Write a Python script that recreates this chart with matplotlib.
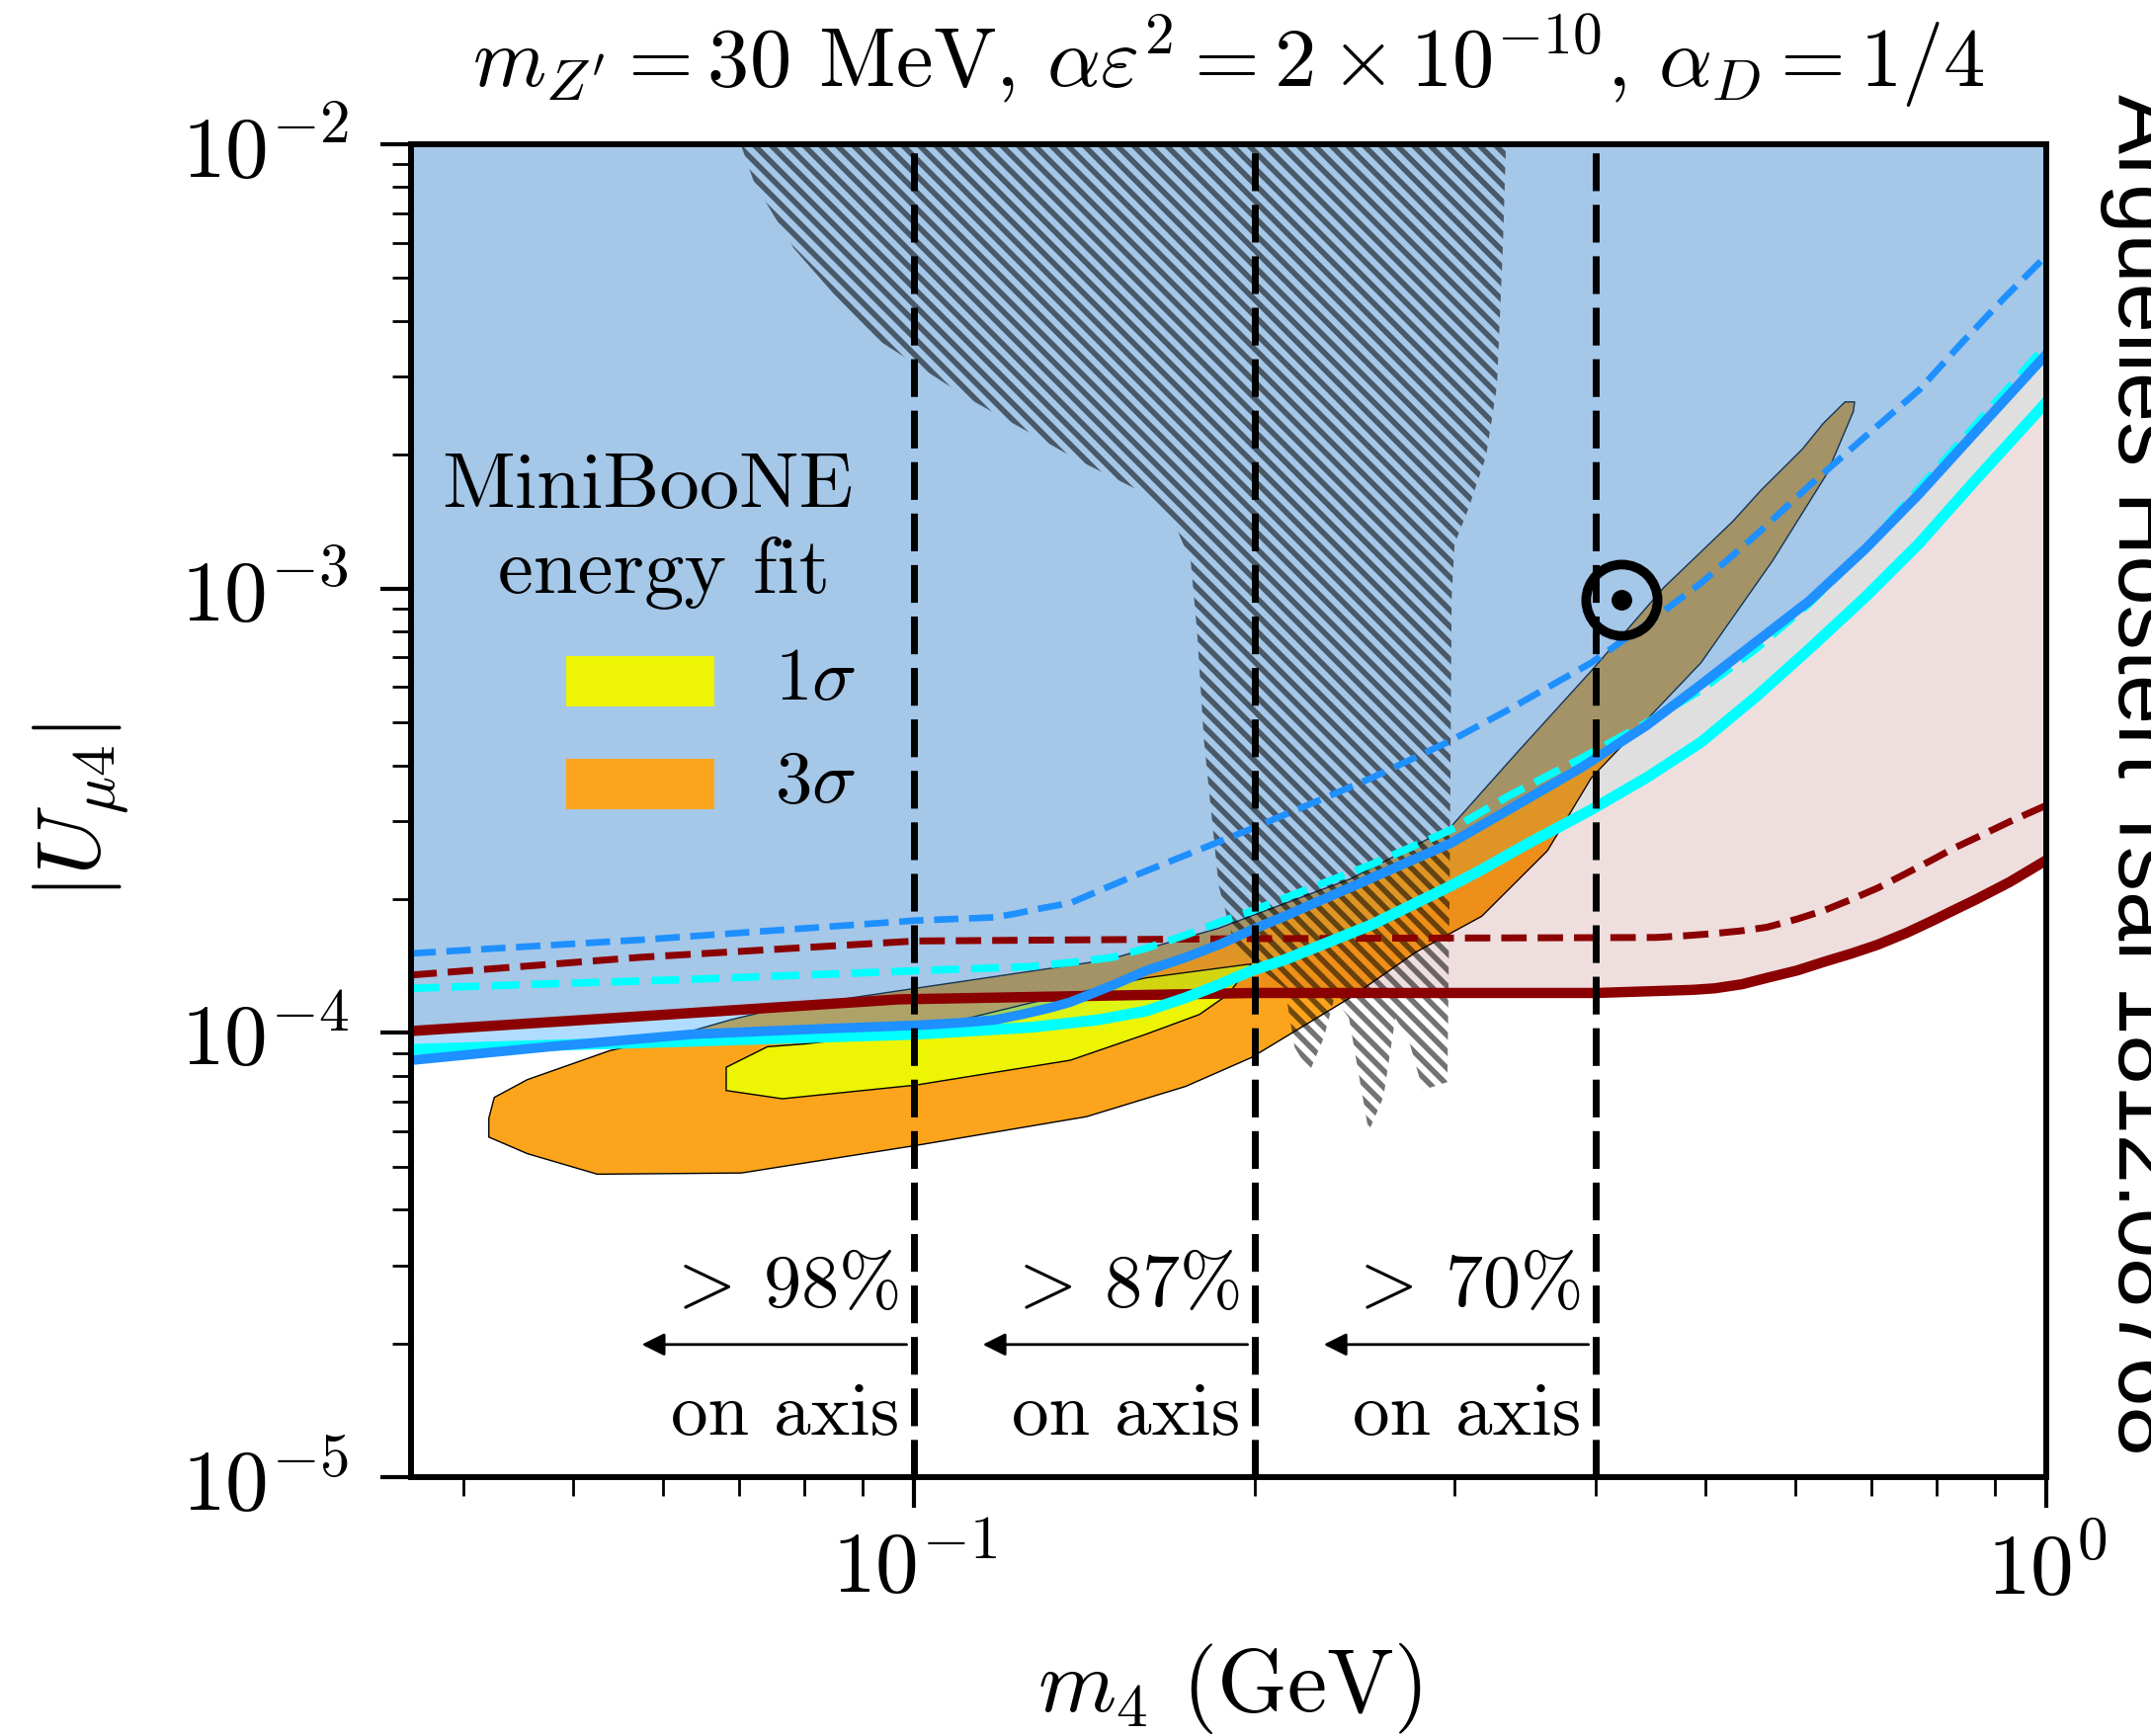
import matplotlib
matplotlib.use('Agg')
import matplotlib.pyplot as plt
import numpy as np
from matplotlib.patches import Rectangle
from matplotlib.ticker import LogLocator, NullFormatter

plt.rcParams['font.family'] = 'serif'
plt.rcParams['font.serif'] = ['cmr10']
plt.rcParams['mathtext.fontset'] = 'cm'
plt.rcParams['axes.formatter.use_mathtext'] = True
plt.rcParams['hatch.linewidth'] = 4.0

# --- data (m4 in GeV, |U_mu4|) ---
top = 1e-2

# dark red solid / dashed
m_red = [0.036, 0.0574, 0.097, 0.2, 0.4007, 0.4871, 0.5093, 0.5384, 0.5662, 0.6021, 0.637, 0.6731,
         0.7096, 0.7524, 0.7959, 0.825, 0.865, 0.9275, 1.0]
u_red = [1.01e-4, 1.09e-4, 1.19e-4, 1.23e-4, 1.23e-4, 1.25e-4, 1.26e-4, 1.287e-4, 1.33e-4, 1.382e-4, 1.447e-4, 1.51e-4,
         1.58e-4, 1.68e-4, 1.797e-4, 1.88e-4, 1.993e-4, 2.185e-4, 2.45e-4]
m_red_d = [0.036, 0.0574, 0.1003, 0.2, 0.4519, 0.4818, 0.5093, 0.5384, 0.5662, 0.6021, 0.637, 0.6731,
           0.7096, 0.7524, 0.7959, 0.825, 0.865, 0.9275, 1.0]
u_red_d = [1.35e-4, 1.48e-4, 1.61e-4, 1.63e-4, 1.64e-4, 1.656e-4, 1.674e-4, 1.698e-4, 1.729e-4, 1.804e-4, 1.889e-4, 2.0e-4,
           2.12e-4, 2.289e-4, 2.466e-4, 2.592e-4, 2.744e-4, 2.988e-4, 3.254e-4]

# blue solid / dashed
m_blue = [0.036, 0.04764, 0.06367, 0.08318, 0.1003, 0.1099, 0.1179, 0.1246, 0.1321, 0.1374, 0.1429, 0.1515,
          0.1602, 0.1737, 0.1867, 0.1985, 0.2123, 0.2537, 0.2975, 0.3354, 0.3876, 0.4431, 0.4953, 0.5537,
          0.6172, 0.692, 0.7718, 0.865, 1.0]
u_blue = [8.68e-5, 9.31e-5, 9.93e-5, 1.022e-4, 1.04e-4, 1.054e-4, 1.07e-4, 1.101e-4, 1.14e-4, 1.173e-4, 1.22e-4, 1.296e-4,
          1.38e-4, 1.478e-4, 1.587e-4, 1.704e-4, 1.829e-4, 2.233e-4, 2.67e-4, 3.184e-4, 3.943e-4, 4.913e-4, 6.08e-4, 7.577e-4,
          9.38e-4, 1.229e-3, 1.633e-3, 2.248e-3, 3.37e-3]
m_blue_d = [0.036, 0.05742, 0.1003, 0.1179, 0.1229, 0.1299, 0.1374, 0.1457, 0.158, 0.1718, 0.1985, 0.2269,
            0.2537, 0.2975, 0.3354, 0.3963, 0.4431, 0.4953, 0.5537, 0.6172, 0.692, 0.7718, 0.8414, 0.9199, 1.0]
u_blue_d = [1.51e-4, 1.62e-4, 1.79e-4, 1.82e-4, 1.855e-4, 1.91e-4, 1.96e-4, 2.09e-4, 2.28e-4, 2.484e-4, 2.88e-4, 3.323e-4,
            3.75e-4, 4.54e-4, 5.35e-4, 6.81e-4, 8.31e-4, 1.029e-3, 1.319e-3, 1.704e-3, 2.201e-3, 2.80e-3, 3.568e-3,
            4.54e-3, 5.62e-3]

# cyan solid / dashed
m_cyan = [0.036, 0.04764, 0.06367, 0.08318, 0.1003, 0.1271, 0.1453, 0.1602, 0.1737, 0.1867, 0.1985, 0.2123,
          0.2537, 0.2975, 0.3171, 0.3448, 0.3963, 0.4431, 0.4953, 0.5537, 0.6172, 0.692, 0.7718, 0.865, 1.0]
u_cyan = [9.18e-5, 9.38e-5, 9.58e-5, 9.79e-5, 9.93e-5, 1.03e-4, 1.07e-4, 1.12e-4, 1.20e-4, 1.29e-4, 1.38e-4, 1.46e-4,
          1.753e-4, 2.14e-4, 2.33e-4, 2.63e-4, 3.18e-4, 3.75e-4, 4.51e-4, 5.705e-4, 7.31e-4, 9.58e-4, 1.264e-3,
          1.753e-3, 2.63e-3]
m_cyan_d = [0.036, 0.06367, 0.1003, 0.1264, 0.1374, 0.1494, 0.1602, 0.1737, 0.1867, 0.1985, 0.2123, 0.2537,
            0.2975, 0.3354, 0.3876, 0.4431, 0.4953, 0.5537, 0.6172, 0.692, 0.7718, 0.865, 1.0]
u_cyan_d = [1.26e-4, 1.32e-4, 1.38e-4, 1.41e-4, 1.44e-4, 1.478e-4, 1.55e-4, 1.66e-4, 1.78e-4, 1.88e-4, 2.01e-4, 2.396e-4,
            2.86e-4, 3.42e-4, 4.14e-4, 4.983e-4, 5.91e-4, 7.31e-4, 9.25e-4, 1.229e-3, 1.68e-3, 2.33e-3, 3.54e-3]

# MiniBooNE energy fit contours
m_3sig = [0.04213, 0.0426, 0.04556, 0.05385, 0.06157, 0.06884, 0.07526, 0.1003, 0.1482, 0.1857, 0.2427,
          0.2975, 0.342, 0.3963, 0.4595, 0.5283, 0.56, 0.6087, 0.6347, 0.6637, 0.6768,
          0.6749, 0.64, 0.5726, 0.4953, 0.3963, 0.3624, 0.3171, 0.2774, 0.2427, 0.1985, 0.1737,
          0.142, 0.1003, 0.0704, 0.05253, 0.04556, 0.04213]
u_3sig = [6.43e-5, 7.16e-5, 7.85e-5, 9.12e-5, 9.86e-5, 1.07e-4, 1.13e-4, 1.26e-4, 1.46e-4, 1.72e-4, 2.22e-4,
          2.90e-4, 4.32e-4, 6.53e-4, 1.007e-3, 1.416e-3, 1.668e-3, 2.06e-3, 2.35e-3, 2.63e-3, 2.63e-3,
          2.50e-3, 1.816e-3, 1.153e-3, 6.81e-4, 3.75e-4, 2.57e-4, 1.83e-4, 1.52e-4, 1.20e-4, 8.80e-5, 7.58e-5,
          6.48e-5, 5.58e-5, 4.84e-5, 4.81e-5, 5.35e-5, 5.83e-5]
m_1sig = [0.06826, 0.07423, 0.08026, 0.1003, 0.1271, 0.1602, 0.1985, 0.1893, 0.1786, 0.1602, 0.1374,
          0.1003, 0.07653, 0.06826]
u_1sig = [8.37e-5, 9.31e-5, 9.45e-5, 1.01e-4, 1.17e-4, 1.33e-4, 1.43e-4, 1.22e-4, 1.10e-4, 9.93e-5, 8.68e-5,
          7.63e-5, 7.11e-5, 7.42e-5]

# hatched excluded region
m_hatch = [0.0703, 0.0723, 0.0783, 0.0849, 0.093, 0.1119, 0.1258, 0.1393, 0.1581, 0.1696, 0.1755, 0.1778,
           0.1803, 0.1858, 0.1922, 0.2125, 0.2168, 0.2234, 0.2301, 0.235, 0.2421, 0.252, 0.2597, 0.266,
           0.273, 0.2813, 0.2957, 0.2971, 0.2983, 0.3001, 0.3086, 0.32, 0.3271, 0.3311, 0.3331]
u_hatch = [1e-2, 8.15e-3, 5.83e-3, 4.61e-3, 3.62e-3, 2.67e-3, 2.26e-3, 1.95e-3, 1.66e-3, 1.41e-3, 1.15e-3, 7.98e-4,
           4.54e-4, 2.14e-4, 1.55e-4, 1.26e-4, 9.28e-5, 8.17e-5, 9.77e-5, 1.20e-4, 1.08e-4, 6.00e-5, 7.18e-5, 1.08e-4,
           9.77e-5, 7.44e-5, 7.75e-5, 2.10e-4, 9.57e-4, 1.26e-3, 1.51e-3, 1.99e-3, 2.86e-3, 5.96e-3, 1e-2]

# benchmark point
m_star, u_star = 0.4214, 9.45e-4

# on-axis fractions
onaxis_mass = [0.1, 0.2, 0.4]
onaxis_frac = ['98', '87', '70']

fig = plt.figure(figsize=(21.77, 17.57), dpi=100)
ax = fig.add_axes([0.1913, 0.1490, 0.7602, 0.7680])
ax.set_xscale('log')
ax.set_yscale('log')

ax.fill(m_3sig, u_3sig, facecolor='#fca51c', edgecolor='k', lw=1.0, zorder=1)
ax.fill(m_1sig, u_1sig, facecolor='#edf404', edgecolor='k', lw=1.0, zorder=1.1)

ax.fill_between(m_red, u_red, top, color='darkred', alpha=0.13, lw=0, zorder=2)
ax.fill_between(m_cyan, u_cyan, top, color='cyan', alpha=0.06, lw=0, zorder=2.1)
ax.fill_between(m_blue, u_blue, top, color='dodgerblue', alpha=0.3, lw=0, zorder=2.2)

ax.fill(m_hatch, u_hatch, facecolor='none', edgecolor=(0, 0, 0, 0.55), hatch='\\\\', lw=0, zorder=3)

ax.plot(m_red_d, u_red_d, color='darkred', lw=5, ls='--', zorder=4)
ax.plot(m_blue_d, u_blue_d, color='dodgerblue', lw=4.8, ls='--', zorder=4)
ax.plot(m_cyan_d, u_cyan_d, color='cyan', lw=5.5, ls='--', zorder=4)
ax.plot(m_red, u_red, color='darkred', lw=7.5, zorder=4.1)
ax.plot(m_cyan, u_cyan, color='cyan', lw=8, zorder=4.2)
ax.plot(m_blue, u_blue, color='dodgerblue', lw=7, zorder=4.3)

for xv, pct in zip(onaxis_mass, onaxis_frac):
    ax.axvline(xv, color='k', lw=5, ls=(0, (5.5, 2)), zorder=5)
    ax.text(xv * 0.97, 2.43e-5, r'$>\!$ ' + pct + '%', ha='right', va='baseline', fontsize=55, zorder=7)
    ax.annotate('', xy=(xv * 0.575, 1.99e-5), xytext=(xv * 0.985, 1.99e-5),
                arrowprops=dict(arrowstyle='-|>', color='k', lw=2, mutation_scale=35, shrinkA=0, shrinkB=0),
                zorder=7)
    ax.text(xv * 0.97, 1.25e-5, 'on axis', ha='right', va='baseline', fontsize=54, zorder=7)

ax.plot(m_star, u_star, marker='o', ms=52, mfc='none', mec='k', mew=7, zorder=6)
ax.plot(m_star, u_star, marker='o', ms=14, color='k', zorder=6)

# legend
ax.text(0.1441, 0.7272, 'MiniBooNE', transform=ax.transAxes, ha='center', va='baseline', fontsize=58, zorder=7)
ax.text(0.1544, 0.6635, 'energy fit', transform=ax.transAxes, ha='center', va='baseline', fontsize=58, zorder=7)
ax.add_patch(Rectangle((0.0946, 0.5782), 0.0906, 0.0378, transform=ax.transAxes, color='#edf404', lw=0, zorder=7))
ax.add_patch(Rectangle((0.0946, 0.5011), 0.0906, 0.0378, transform=ax.transAxes, color='#fca51c', lw=0, zorder=7))
ax.text(0.2220, 0.597, r'$1\sigma$', transform=ax.transAxes, ha='left', va='center', fontsize=54, zorder=7)
ax.text(0.2220, 0.520, r'$3\sigma$', transform=ax.transAxes, ha='left', va='center', fontsize=54, zorder=7)

ax.set_xlim(0.036, 1)
ax.set_ylim(1e-5, 1e-2)
ax.yaxis.set_minor_locator(LogLocator(base=10, subs=np.arange(2, 10), numticks=20))
ax.xaxis.set_minor_locator(LogLocator(base=10, subs=np.arange(2, 10), numticks=20))
ax.xaxis.set_minor_formatter(NullFormatter())
ax.yaxis.set_minor_formatter(NullFormatter())
ax.tick_params(which='both', direction='out', top=False, right=False)
ax.tick_params(which='major', length=22, width=3, labelsize=63)
ax.tick_params(which='minor', length=14, width=2)
ax.tick_params(axis='y', which='major', pad=24)
ax.tick_params(axis='x', which='major', pad=15)
for s in ax.spines.values():
    s.set_linewidth(4.3)
    s.set_zorder(8)

ax.set_title(r"$m_{Z^\prime} = 30$ MeV, $\alpha\varepsilon^2 = 2\times10^{-10}$, $\alpha_D = 1/4$",
             fontsize=61, pad=42)
ax.set_xlabel(r'$m_4$ (GeV)', fontsize=65)
ax.set_ylabel(r'$|U_{\mu 4}|$', fontsize=65)
ax.xaxis.set_label_coords(0.5, -0.1228)
ax.yaxis.set_label_coords(-0.1713, 0.5)

fig.text(2144 / 2177, 1 - 95 / 1757, 'Arguelles Hostert Tsai 1812.08768', rotation=270,
         rotation_mode='anchor', ha='left', va='baseline', fontsize=65, family='Liberation Sans')

fig.savefig('out.png', dpi=100)
